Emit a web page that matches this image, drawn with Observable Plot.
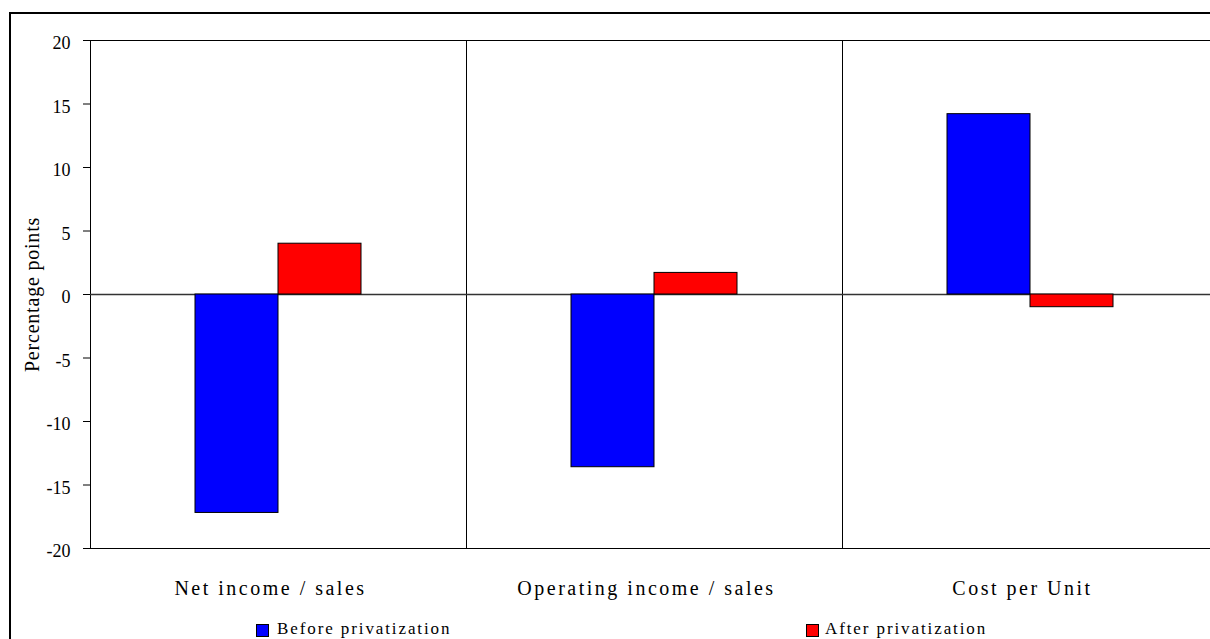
<!DOCTYPE html>
<html>
<head>
<meta charset="utf-8">
<script src="https://cdn.jsdelivr.net/npm/d3@7"></script>
<script src="https://cdn.jsdelivr.net/npm/@observablehq/plot@0.6"></script>
<style>
  html, body { margin: 0; padding: 0; background: white; overflow: hidden; }
  #wrap { position: relative; width: 1210px; height: 639px; overflow: hidden; font-family: "Liberation Serif", "Times New Roman", serif; }
  #chart { position: absolute; left: 0; top: 0; }
  #border { position: absolute; left: 9px; top: 12px; width: 1400px; height: 800px; border-left: 2px solid #000; border-top: 2px solid #000; pointer-events: none; z-index: 2; }
  #legend { position: absolute; left: 0; top: 610px; width: 1210px; height: 29px; font-size: 17px; letter-spacing: 1.9px; color: #000; }
  .item { position: absolute; top: 0; white-space: nowrap; }
  .sw { position: absolute; top: 14px; width: 11px; height: 11px; border: 1px solid #000; }
  .lt { position: absolute; top: 9px; line-height: 20px; }
</style>
</head>
<body>
<div id="wrap">
  <div id="chart"></div>
  <div id="legend"></div>
  <div id="border"></div>
</div>
<script>
const categories = ["Net income / sales", "Operating income / sales", "Cost per Unit"];
const series = ["Before privatization", "After privatization"];
const before = [-17.2, -13.6, 14.2];
const after = [4.0, 1.7, -1.0];
const yTicks = [-20, -15, -10, -5, 0, 5, 10, 15, 20];
const colors = ["#0000ff", "#ff0000"];

const data = [];
categories.forEach((c, i) => {
  data.push({category: c, series: series[0], value: before[i]});
  data.push({category: c, series: series[1], value: after[i]});
});

const chart = Plot.plot({
  width: 1210,
  height: 610,
  marginLeft: 90,
  marginRight: 0,
  marginTop: 40,
  marginBottom: 62,
  style: {fontFamily: "Liberation Serif, Times New Roman, serif", fontSize: "18px", background: "white", color: "#000"},
  fx: {domain: categories, range: [90, 1218], padding: 0, label: null},
  x: {domain: series, paddingInner: 0, paddingOuter: 1.265, axis: null},
  y: {domain: [-20, 20], label: null},
  color: {domain: series, range: colors},
  marks: [
    Plot.frame({stroke: "#000", strokeWidth: 1}),
    Plot.ruleY([0], {stroke: "#333", strokeWidth: 1.5}),
    Plot.barY(data, {fx: "category", x: "series", y: "value", fill: "series", stroke: "#000", strokeWidth: 1}),
    Plot.axisY({ticks: yTicks, tickSize: 7, text: null, label: null}),
    Plot.axisY({ticks: yTicks, tickFormat: (d) => String(d), tickSize: 0, tickPadding: 20, fontSize: 18, dy: 3, label: "Percentage points", labelAnchor: "center", labelArrow: "none", labelOffset: 66}),
    Plot.axisFx({anchor: "bottom", tickSize: 0, tickPadding: 32, fontSize: 20, dx: -8, label: null})
  ]
});
document.getElementById("chart").appendChild(chart);

const svg = d3.select(chart);
svg.selectAll('[aria-label="fx-axis tick label"] text').style("letter-spacing", "2.5px");
svg.selectAll('[aria-label="y-axis label"] text').style("font-size", "20px").style("letter-spacing", "0.8px");

const legend = d3.select("#legend");
const lefts = [256, 806];
series.forEach((s, i) => {
  const it = legend.append("div").attr("class", "item").style("left", lefts[i] + "px");
  it.append("div").attr("class", "sw").style("left", "0px").style("background", colors[i]);
  it.append("div").attr("class", "lt").style("left", (i === 0 ? 21 : 19) + "px").text(s);
});
</script>
</body>
</html>
